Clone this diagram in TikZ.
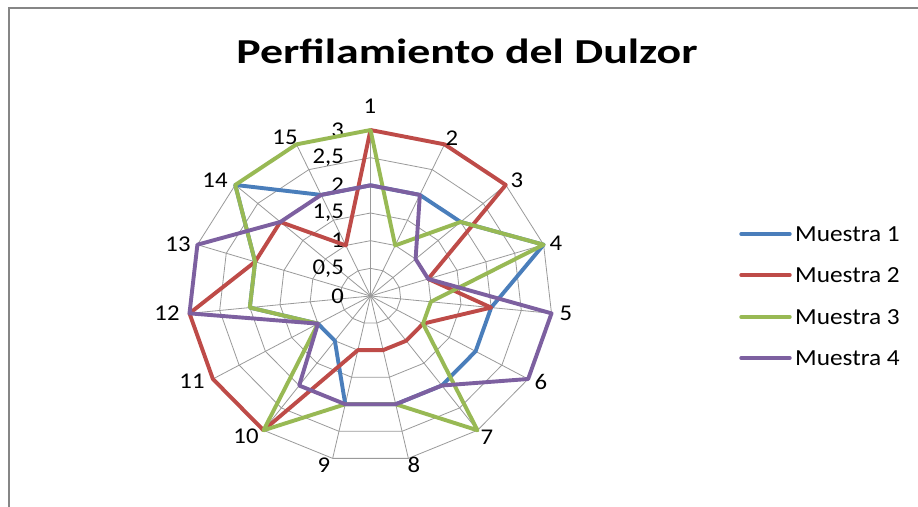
\documentclass[tikz,border=0pt]{standalone}
\usepackage{fontspec}
\setmainfont{Carlito}
\newcommand{\sx}[2][1.1]{\scalebox{#1}[1]{#2}}
\definecolor{sblue}{HTML}{4A7EBB}
\definecolor{sred}{HTML}{BE4B48}
\definecolor{sgreen}{HTML}{98B954}
\definecolor{spurple}{HTML}{7D60A0}
\definecolor{gridgray}{HTML}{9A9A9A}
\definecolor{framegray}{HTML}{868686}
\tikzset{
  gridline/.style={draw=gridgray, line width=0.8pt},
  series/.style={line width=3.9pt, line join=round},
  legline/.style={line width=3.4pt, line cap=round},
  axlbl/.style={font=\fontsize{22.5}{22.5}\selectfont, inner sep=0pt},
  vallbl/.style={font=\fontsize{22.5}{22.5}\selectfont, inner sep=0pt, anchor=east},
  leglbl/.style={font=\fontsize{23}{23}\selectfont, inner sep=0pt, anchor=west},
}
\begin{document}
\begin{tikzpicture}[x=1pt, y=-1pt]
\useasboundingbox (0,0) rectangle (918,506);
\fill[white] (0,0) rectangle (918,506);
\draw[framegray, line width=2pt] (9,507) -- (9,8) -- (919,8);
% title
\node[inner sep=0pt, font=\bfseries\fontsize{35}{35}\selectfont] (title) at (467,51) {\sx[1.31]{Perfilamiento del Dulzor}};
\begin{scope}[shift={(370.5,296)}]
\begin{scope}[x=60.67pt, y=55.33pt]
\coordinate (O) at (0,0);
\foreach \k in {1,...,15} \coordinate (ax\k) at ({90-(\k-1)*24}:3);
\foreach \k in {1,...,15} \draw[gridline] (O) -- (ax\k);
\foreach \r in {0.5,1,...,3} \draw[gridline] (90:\r) \foreach \k in {1,...,14}{ -- ({90-\k*24}:\r)} -- cycle;
% data
\foreach \v [count=\k] in {2,2,2,3,2,2,2,2,2,1,1,2,2,3,2} \coordinate (b\k) at ({90-(\k-1)*24}:\v);
\foreach \v [count=\k] in {3,3,3,1,2,1,1,1,1,3,3,3,2,2,1} \coordinate (r\k) at ({90-(\k-1)*24}:\v);
\foreach \v [count=\k] in {3,1,2,3,1,1,3,2,2,3,1,2,2,3,3} \coordinate (g\k) at ({90-(\k-1)*24}:\v);
\foreach \v [count=\k] in {2,2,1,1,3,3,2,2,2,2,1,3,3,2,2} \coordinate (p\k) at ({90-(\k-1)*24}:\v);
\end{scope}
\end{scope}
% value labels
\node[vallbl] (v0) at (344,296) {\sx{0}};
\node[vallbl] (v05) at (344,268.3) {\sx{0,5}};
\node[vallbl] (v1) at (344,240.7) {\sx{1}};
\node[vallbl] (v15) at (344,213) {\sx{1,5}};
\node[vallbl] (v2) at (344,185.3) {\sx{2}};
\node[vallbl] (v25) at (344,157.7) {\sx{2,5}};
\node[vallbl] (v3) at (344,130) {\sx{3}};
% series
\draw[series, sblue] (b1) \foreach \k in {2,...,15}{-- (b\k)} -- cycle;
\draw[series, sred] (r1) \foreach \k in {2,...,15}{-- (r\k)} -- cycle;
\draw[series, sgreen] (g1) \foreach \k in {2,...,15}{-- (g\k)} -- cycle;
\draw[series, spurple] (p1) \foreach \k in {2,...,15}{-- (p\k)} -- cycle;
% axis labels
\node[axlbl] (a1) at (370,106) {\sx{1}};
\node[axlbl] (a2) at (452,138) {\sx{2}};
\node[axlbl] (a3) at (517,180) {\sx{3}};
\node[axlbl] (a4) at (556,243) {\sx{4}};
\node[axlbl] (a5) at (566,313) {\sx{5}};
\node[axlbl] (a6) at (541,382) {\sx{6}};
\node[axlbl] (a7) at (487,437) {\sx{7}};
\node[axlbl] (a8) at (414,465) {\sx{8}};
\node[axlbl] (a9) at (324,465) {\sx{9}};
\node[axlbl] (a10) at (246,436) {\sx{10}};
\node[axlbl] (a11) at (192,381) {\sx{11}};
\node[axlbl] (a12) at (167,313) {\sx{12}};
\node[axlbl] (a13) at (178,244) {\sx{13}};
\node[axlbl] (a14) at (215,180) {\sx{14}};
\node[axlbl] (a15) at (285,137) {\sx{15}};
% legend
\coordinate (l1a) at (741,234); \coordinate (l1b) at (790,234);
\coordinate (l2a) at (741,275); \coordinate (l2b) at (790,275);
\coordinate (l3a) at (741,317); \coordinate (l3b) at (790,317);
\coordinate (l4a) at (741,358); \coordinate (l4b) at (790,358);
\draw[legline, sblue] (l1a) -- (l1b);
\draw[legline, sred] (l2a) -- (l2b);
\draw[legline, sgreen] (l3a) -- (l3b);
\draw[legline, spurple] (l4a) -- (l4b);
\node[leglbl] (m1) at (795,234) {\sx{Muestra 1}};
\node[leglbl] (m2) at (795,275) {\sx{Muestra 2}};
\node[leglbl] (m3) at (795,317) {\sx{Muestra 3}};
\node[leglbl] (m4) at (795,358) {\sx{Muestra 4}};
\end{tikzpicture}
\end{document}
